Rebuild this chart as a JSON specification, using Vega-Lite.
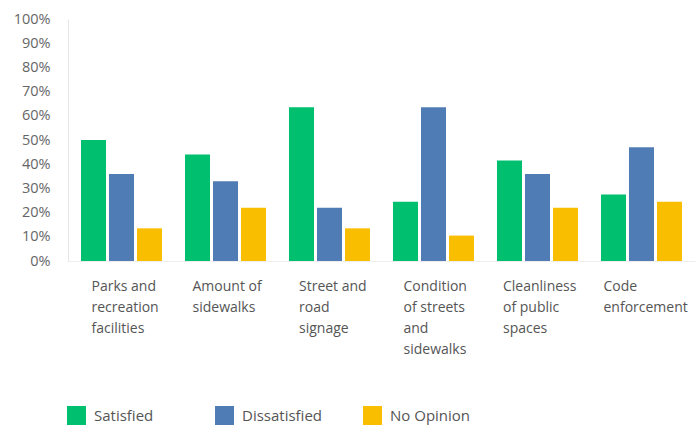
{
  "$schema": "https://vega.github.io/schema/vega-lite/v6.json",
  "autosize": {"type": "none"},
  "width": 627,
  "height": 242,
  "padding": {"left": 68, "top": 19, "right": 1, "bottom": 169},
  "background": "white",
  "data": {
    "values": [
      {"item": "Parks and recreation facilities", "response": "Satisfied", "pct": 50},
      {"item": "Parks and recreation facilities", "response": "Dissatisfied", "pct": 36},
      {"item": "Parks and recreation facilities", "response": "No Opinion", "pct": 13.5},
      {"item": "Amount of sidewalks", "response": "Satisfied", "pct": 44},
      {"item": "Amount of sidewalks", "response": "Dissatisfied", "pct": 33},
      {"item": "Amount of sidewalks", "response": "No Opinion", "pct": 22},
      {"item": "Street and road signage", "response": "Satisfied", "pct": 63.5},
      {"item": "Street and road signage", "response": "Dissatisfied", "pct": 22},
      {"item": "Street and road signage", "response": "No Opinion", "pct": 13.5},
      {"item": "Condition of streets and sidewalks", "response": "Satisfied", "pct": 24.5},
      {"item": "Condition of streets and sidewalks", "response": "Dissatisfied", "pct": 63.5},
      {"item": "Condition of streets and sidewalks", "response": "No Opinion", "pct": 10.5},
      {"item": "Cleanliness of public spaces", "response": "Satisfied", "pct": 41.5},
      {"item": "Cleanliness of public spaces", "response": "Dissatisfied", "pct": 36},
      {"item": "Cleanliness of public spaces", "response": "No Opinion", "pct": 22},
      {"item": "Code enforcement", "response": "Satisfied", "pct": 27.5},
      {"item": "Code enforcement", "response": "Dissatisfied", "pct": 47},
      {"item": "Code enforcement", "response": "No Opinion", "pct": 24.5}
    ]
  },
  "mark": {"type": "bar"},
  "encoding": {
    "x": {
      "field": "item",
      "type": "nominal",
      "sort": null,
      "title": null,
      "scale": {"paddingInner": 0.221, "paddingOuter": 0.125},
      "axis": {
        "labelAngle": 0,
        "labelAlign": "left",
        "labelBaseline": "top",
        "labelOffset": {
          "condition": [
            {"test": "datum.value == 'Amount of sidewalks'", "value": -33},
            {"test": "datum.value == 'Street and road signage'", "value": -30.5},
            {"test": "datum.value == 'Condition of streets and sidewalks'", "value": -30},
            {"test": "datum.value == 'Cleanliness of public spaces'", "value": -34.5},
            {"test": "datum.value == 'Code enforcement'", "value": -38}
          ],
          "value": -30
        },
        "labelPadding": 18,
        "labelFont": "Open Sans",
        "labelFontSize": 14,
        "labelColor": "#555555",
        "labelLineHeight": 21,
        "labelLimit": 200,
        "ticks": false,
        "domain": true,
        "domainColor": "#eeeeee",
        "labelExpr": "datum.value == 'Parks and recreation facilities' ? ['Parks and','recreation','facilities'] : datum.value == 'Amount of sidewalks' ? ['Amount of','sidewalks'] : datum.value == 'Street and road signage' ? ['Street and','road','signage'] : datum.value == 'Condition of streets and sidewalks' ? ['Condition','of streets','and','sidewalks'] : datum.value == 'Cleanliness of public spaces' ? ['Cleanliness','of public','spaces'] : ['Code','enforcement']"
      }
    },
    "xOffset": {
      "field": "response",
      "type": "nominal",
      "sort": ["Satisfied", "Dissatisfied", "No Opinion"],
      "scale": {"paddingInner": 0.107, "paddingOuter": 0}
    },
    "y": {
      "field": "pct",
      "type": "quantitative",
      "title": null,
      "scale": {"domain": [0, 100], "nice": false},
      "axis": {
        "values": [0, 10, 20, 30, 40, 50, 60, 70, 80, 90, 100],
        "labelExpr": "datum.value + '%'",
        "grid": false,
        "ticks": false,
        "domain": true,
        "domainColor": "#e6e6e6",
        "labelPadding": 18,
        "labelFont": "Open Sans",
        "labelFontSize": 14.5,
        "labelColor": "#666666"
      }
    },
    "color": {
      "field": "response",
      "type": "nominal",
      "sort": ["Satisfied", "Dissatisfied", "No Opinion"],
      "scale": {
        "domain": ["Satisfied", "Dissatisfied", "No Opinion"],
        "range": ["#00BF6F", "#507CB6", "#F9BE00"]
      },
      "legend": {
        "title": null,
        "orient": "none",
        "legendX": -1,
        "legendY": 387,
        "direction": "horizontal",
        "columns": 3,
        "gridAlign": "all",
        "columnPadding": 40,
        "padding": 0,
        "symbolType": "square",
        "symbolSize": 361,
        "symbolStrokeWidth": 0,
        "symbolOffset": 0,
        "labelOffset": 8,
        "labelFont": "Open Sans",
        "labelFontSize": 15,
        "labelColor": "#555555"
      }
    }
  },
  "config": {"view": {"stroke": null}}
}
